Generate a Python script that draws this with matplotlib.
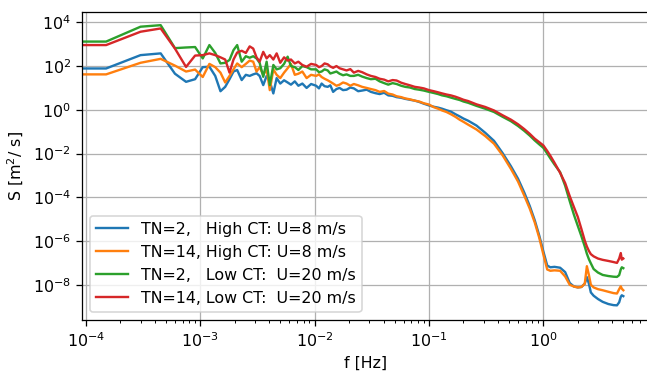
import numpy as np
import matplotlib
matplotlib.use("Agg")
import matplotlib.pyplot as plt

# frequency grid [Hz] (first bin is f=0, as in a Welch spectrum)
freq = [0, 1.5e-4, 3.0e-4, 4.5e-4, 6.0e-4, 7.5e-4, 9.0e-4, 1.05e-3, 1.2e-3, 1.35e-3,
        1.5e-3, 1.65e-3, 1.8e-3, 1.95e-3, 2.1e-3, 2.3e-3, 2.5e-3, 2.7e-3, 2.9e-3, 3.1e-3,
        3.3e-3, 3.55e-3, 3.8e-3, 4.05e-3, 4.35e-3, 4.65e-3, 5.0e-3, 5.4e-3, 5.8e-3, 6.2e-3,
        6.7e-3, 7.2e-3, 7.8e-3, 8.5e-3,
        9.3e-3, 1.03e-2, 1.09e-2, 1.15e-2, 1.22e-2, 1.3e-2, 1.37e-2, 1.45e-2, 1.55e-2, 1.65e-2,
        1.77e-2, 1.9e-2, 2.05e-2, 2.2e-2, 2.4e-2, 2.6e-2, 2.85e-2, 3.1e-2, 3.4e-2, 3.7e-2,
        4.05e-2, 4.4e-2, 4.8e-2, 5.2e-2, 5.7e-2, 6.2e-2, 6.8e-2, 7.5e-2, 8.2e-2, 9.0e-2,
        0.1, 0.11, 0.12, 0.13, 0.142, 0.155, 0.17, 0.185, 0.2, 0.22,
        0.26, 0.31, 0.37, 0.44, 0.52, 0.6, 0.68, 0.76, 0.84, 0.92,
        1.0, 1.08, 1.15, 1.25, 1.4, 1.55, 1.7, 1.85, 2.0, 2.15,
        2.3, 2.4, 2.5, 2.6, 2.75, 3.0, 3.3, 3.7, 4.1, 4.4,
        4.6, 4.75, 4.85, 5.0]

# log10 of S [m^2/s]
logS_tn2_high = [1.89, 1.89, 2.50, 2.58, 1.65, 1.28, 1.40, 1.95, 1.97, 1.55,
                 0.85, 1.05, 1.40, 1.75, 1.82, 1.36, 1.60, 1.55, 1.62, 1.67,
                 1.55, 1.13, 1.55, 1.30, 0.75, 1.45, 1.20, 1.35, 1.25, 1.15,
                 1.30, 1.10, 1.20, 1.00,
                 1.18, 1.10, 0.98, 1.20, 1.08, 1.05, 1.12, 0.82, 0.95, 1.00,
                 0.90, 0.92, 1.02, 0.98, 0.85, 0.88, 0.92, 0.82, 0.76, 0.72,
                 0.78, 0.66, 0.64, 0.58, 0.55, 0.50, 0.46, 0.42, 0.36, 0.28,
                 0.20, 0.14, 0.10, 0.05, -0.02, -0.08, -0.20, -0.30, -0.40, -0.50,
                 -0.72, -1.05, -1.42, -1.98, -2.58, -3.15, -3.78, -4.40, -5.05, -5.75,
                 -6.48, -7.12, -7.20, -7.18, -7.22, -7.42, -7.92, -8.08, -8.12, -8.10,
                 -7.95, -7.65, -7.95, -8.35, -8.50, -8.65, -8.78, -8.88, -8.93, -8.94,
                 -8.80, -8.55, -8.48, -8.52]

logS_tn14_high = [1.62, 1.62, 2.15, 2.33, 2.02, 1.75, 1.84, 1.50, 2.10, 1.95,
                  1.70, 1.25, 1.55, 1.85, 2.12, 1.95, 2.10, 2.25, 2.20, 1.75,
                  1.95, 1.60, 1.85, 0.90, 1.85, 1.60, 1.45, 1.70, 1.90, 2.10,
                  1.60, 1.65, 1.75, 1.45,
                  1.60, 1.55, 1.62, 1.50, 1.42, 1.35, 1.28, 1.20, 1.10, 1.15,
                  1.25, 1.20, 1.10, 1.18, 1.12, 1.05, 1.00, 0.95, 0.90, 0.82,
                  0.86, 0.74, 0.70, 0.62, 0.58, 0.52, 0.48, 0.42, 0.38, 0.30,
                  0.24, 0.12, 0.05, -0.03, -0.10, -0.20, -0.32, -0.45, -0.55, -0.68,
                  -0.90, -1.20, -1.55, -2.08, -2.70, -3.28, -3.92, -4.52, -5.15, -5.85,
                  -6.62, -7.30, -7.36, -7.34, -7.36, -7.62, -8.00, -8.08, -8.12, -8.10,
                  -7.95, -7.15, -7.55, -8.00, -8.12, -8.20, -8.25, -8.32, -8.38, -8.40,
                  -8.20, -8.07, -8.18, -8.25]

logS_tn2_low = [3.12, 3.12, 3.80, 3.87, 2.82, 2.85, 2.87, 2.35, 2.96, 2.60,
                2.12, 2.15, 2.28, 2.73, 2.96, 2.20, 2.45, 2.38, 2.45, 2.35,
                2.15, 1.51, 2.20, 1.13, 2.05, 1.85, 1.90, 2.10, 2.43, 2.00,
                1.95, 1.82, 2.00, 1.95,
                1.85, 1.85, 1.72, 1.75, 1.85, 1.80, 1.66, 1.70, 1.75, 1.65,
                1.58, 1.62, 1.55, 1.55, 1.60, 1.52, 1.45, 1.40, 1.42, 1.30,
                1.22, 1.15, 1.22, 1.18, 1.10, 1.05, 1.02, 0.95, 0.92, 0.88,
                0.82, 0.77, 0.72, 0.66, 0.62, 0.56, 0.50, 0.45, 0.38, 0.32,
                0.18, 0.05, -0.10, -0.32, -0.52, -0.74, -0.96, -1.18, -1.40, -1.58,
                -1.74, -2.00, -2.22, -2.50, -2.85, -3.47, -4.18, -4.80, -5.31, -5.78,
                -6.25, -6.58, -6.83, -7.02, -7.28, -7.44, -7.55, -7.60, -7.63, -7.64,
                -7.56, -7.30, -7.20, -7.24]

logS_tn14_low = [2.96, 2.96, 3.57, 3.72, 2.80, 1.96, 2.48, 2.50, 2.58, 2.50,
                 2.40, 2.30, 1.70, 2.30, 2.62, 2.70, 2.60, 2.90, 2.80, 2.40,
                 2.20, 2.65, 2.35, 2.50, 2.30, 2.58, 2.15, 2.40, 2.25, 2.30,
                 2.12, 2.20, 2.05, 1.97,
                 2.10, 2.05, 1.95, 2.00, 2.12, 2.08, 1.98, 1.92, 2.00, 1.90,
                 1.85, 1.80, 1.86, 1.70, 1.78, 1.72, 1.62, 1.55, 1.50, 1.42,
                 1.38, 1.30, 1.36, 1.34, 1.24, 1.18, 1.12, 1.05, 1.02, 0.98,
                 0.90, 0.85, 0.80, 0.75, 0.70, 0.66, 0.60, 0.53, 0.46, 0.40,
                 0.25, 0.13, -0.03, -0.25, -0.45, -0.66, -0.88, -1.10, -1.32, -1.48,
                 -1.63, -1.88, -2.10, -2.42, -2.88, -3.35, -3.95, -4.45, -4.90, -5.45,
                 -5.98, -6.25, -6.45, -6.60, -6.70, -6.80, -6.86, -6.91, -6.96, -7.00,
                 -6.80, -6.55, -6.85, -6.80]

labels = ["TN=2,   High CT: U=8 m/s",
          "TN=14, High CT: U=8 m/s",
          "TN=2,   Low CT:  U=20 m/s",
          "TN=14, Low CT:  U=20 m/s"]

series = [logS_tn2_high, logS_tn14_high, logS_tn2_low, logS_tn14_low]

DPI = 114
fig = plt.figure(figsize=(647 / DPI, 372 / DPI), dpi=DPI)
ax = fig.add_subplot(111)
fig.subplots_adjust(left=0.1267, right=1.003, bottom=0.1398, top=0.9685)

for logs, lab in zip(series, labels):
    ax.plot(freq, 10 ** np.array(logs), label=lab)

ax.set_xscale("log")
ax.set_yscale("log")
ax.set_xlim(10 ** -4.035, 10 ** 0.923)
ax.set_ylim(10 ** -9.61, 10 ** 4.485)
ax.set_xlabel("f [Hz]")
ax.set_ylabel("S [m$^2$/ s]")
ax.grid(True)
ax.legend(loc="lower left")

plt.savefig("out.png", dpi=DPI)
